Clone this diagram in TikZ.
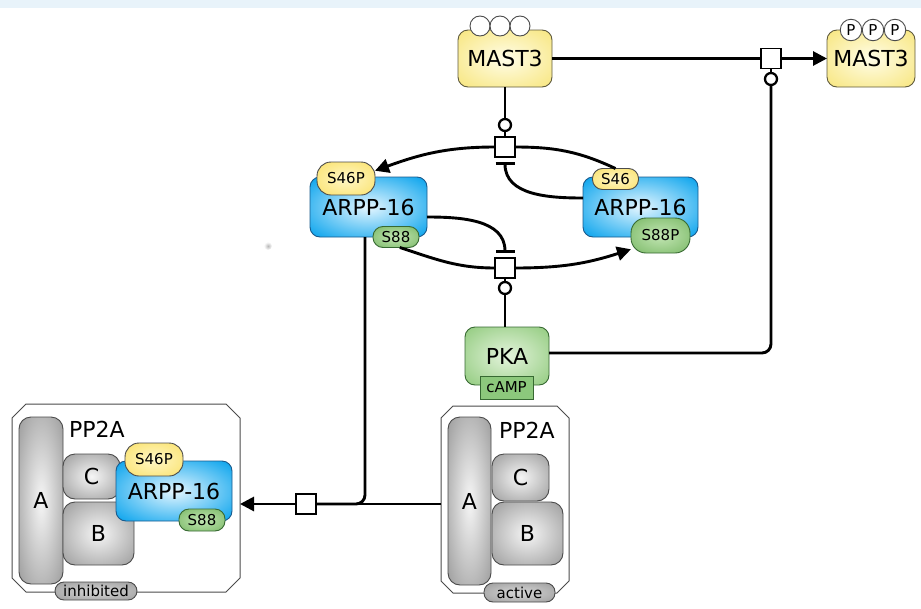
\documentclass[tikz,border=0pt]{standalone}
\usepackage{fontspec}
\setmainfont{DejaVu Sans}
\usetikzlibrary{arrows.meta,calc}
\definecolor{stripc}{RGB}{232,243,250}
\definecolor{yOut}{RGB}{247,228,118}
\definecolor{yIn}{RGB}{255,253,232}
\definecolor{ySOut}{RGB}{250,224,100}
\definecolor{ySIn}{RGB}{255,247,200}
\definecolor{bOut}{RGB}{0,160,236}
\definecolor{bIn}{RGB}{228,246,255}
\definecolor{gOut}{RGB}{140,200,120}
\definecolor{gIn}{RGB}{228,244,220}
\definecolor{gSOut}{RGB}{118,182,98}
\definecolor{gSIn}{RGB}{195,230,180}
\definecolor{kOut}{RGB}{145,145,145}
\definecolor{kIn}{RGB}{246,246,246}
\definecolor{tOut}{RGB}{150,150,150}
\definecolor{tIn}{RGB}{215,215,215}
\definecolor{campc}{RGB}{140,200,124}
\definecolor{bordY}{RGB}{95,90,60}
\definecolor{bordB}{RGB}{25,90,140}
\definecolor{bordG}{RGB}{55,105,50}
\definecolor{bordK}{RGB}{75,75,75}
\pgfdeclareradialshading{shY}{\pgfpoint{0bp}{0bp}}{color(0bp)=(yIn); color(38bp)=(yOut); color(50bp)=(yOut)}
\pgfdeclareradialshading{shYS}{\pgfpoint{0bp}{0bp}}{color(0bp)=(ySIn); color(38bp)=(ySOut); color(50bp)=(ySOut)}
\pgfdeclareradialshading{shB}{\pgfpoint{0bp}{0bp}}{color(0bp)=(bIn); color(36bp)=(bOut); color(50bp)=(bOut)}
\pgfdeclareradialshading{shG}{\pgfpoint{0bp}{0bp}}{color(0bp)=(gIn); color(38bp)=(gOut); color(50bp)=(gOut)}
\pgfdeclareradialshading{shGS}{\pgfpoint{0bp}{0bp}}{color(0bp)=(gSIn); color(38bp)=(gSOut); color(50bp)=(gSOut)}
\pgfdeclareradialshading{shK}{\pgfpoint{0bp}{0bp}}{color(0bp)=(kIn); color(40bp)=(kOut); color(50bp)=(kOut)}
\pgfdeclareradialshading{shT}{\pgfpoint{0bp}{0bp}}{color(0bp)=(tIn); color(40bp)=(tOut); color(50bp)=(tOut)}
\newcommand\myBig{\fontsize{22}{26}\selectfont}
\newcommand\mySmall{\fontsize{15}{18}\selectfont}
\newcommand\myTiny{\fontsize{15}{17}\selectfont}
\newcommand\drawOct[2]{\draw[oct] ($(#1.north west)+(#2,0)$) -- ($(#1.north east)+(-#2,0)$) -- ($(#1.north east)+(0,-#2)$) -- ($(#1.south east)+(0,#2)$) -- ($(#1.south east)+(-#2,0)$) -- ($(#1.south west)+(#2,0)$) -- ($(#1.south west)+(0,#2)$) -- ($(#1.north west)+(0,-#2)$) -- cycle;}
\tikzset{
  ln/.style={line width=2.9pt, black},
  arr/.style={-{Triangle[length=14pt,width=14pt]}},
  inh/.style={-{Bar[width=19pt]}},
  proc/.style={draw, line width=1.7pt, fill=white, minimum size=20pt, inner sep=0pt, outer sep=0pt},
  cat/.style={circle, draw, line width=2.3pt, fill=white, minimum size=12pt, inner sep=0pt, outer sep=0pt},
  box/.style={rounded corners=10pt, draw, line width=0.9pt, inner sep=0pt, outer sep=0pt, text=black},
  mastbox/.style={box, shade, shading=shY, draw=bordY, font=\myBig, minimum height=57pt},
  site/.style={circle, draw=bordK, fill=white, line width=0.9pt, minimum size=20pt, inner sep=0pt, font=\myTiny},
  arppbox/.style={box, shade, shading=shB, draw=bordB, font=\myBig, minimum height=60pt},
  yell/.style={box, shade, shading=shYS, draw=bordK, font=\mySmall},
  grn/.style={box, shade, shading=shGS, draw=bordG, font=\mySmall},
  pkabox/.style={box, shade, shading=shG, draw=bordG, font=\myBig},
  campbox/.style={draw=bordG, fill=campc, line width=0.9pt, inner sep=0pt, outer sep=0pt, font=\mySmall},
  sub/.style={box, rounded corners=12pt, shade, shading=shK, draw=bordK, font=\myBig},
  tag/.style={box, rounded corners=9pt, shade, shading=shT, draw=bordK, font=\mySmall},
  oct/.style={draw=bordK, line width=1pt, fill=white},
  holder/.style={draw=none, inner sep=0pt, outer sep=0pt},
  lbl/.style={font=\myBig, inner sep=0pt}
}
\begin{document}
\begin{tikzpicture}[x=1pt,y=1pt]
\useasboundingbox (0,0) rectangle (921,-608);
\fill[stripc] (0,0) rectangle (921,-8);
\shade[inner color=gray!55, outer color=white] (268,-246) circle (4);

% ---------- MAST3 ----------
\node[mastbox, minimum width=94pt] (M1) at (505,-58.5) {MAST3};
\node[site] (s1) at (480,-26) {};
\node[site] (s2) at (500,-26) {};
\node[site] (s3) at (520,-26) {};
\node[mastbox, minimum width=88pt] (M2) at (871,-58.5) {MAST3};
\node[site, minimum size=21.5pt] (p1) at (851,-30) {P};
\node[site, minimum size=21.5pt] (p2) at (873,-30) {P};
\node[site, minimum size=21.5pt] (p3) at (895,-30) {P};

% ---------- process nodes ----------
\node[proc] (sq1) at (771,-58.5) {};
\node[cat] (k1) at (771,-79) {};
\node[proc] (sq2) at (505,-147) {};
\node[cat] (k2) at (505,-125) {};
\coordinate (bar1) at (505,-162);
\node[proc] (sq3) at (505,-268) {};
\coordinate (bar2) at (505,-253);
\node[cat] (k3) at (505,-288) {};
\node[proc] (sq4) at (306,-504) {};
\coordinate (j) at (365,-504);

% ---------- ARPP-16 left ----------
\node[arppbox, minimum width=117pt] (ARPPl) at (368.5,-207) {\raisebox{-2pt}{ARPP-16}};
\node[yell, rounded corners=14pt, minimum width=58pt, minimum height=33pt] (S46Pl) at (346,-178.5) {S46P};
\node[grn, minimum width=46pt, minimum height=21pt] (S88l) at (396,-237) {S88};

% ---------- ARPP-16 right ----------
\node[arppbox, minimum width=115pt] (ARPPr) at (640.5,-207) {\raisebox{-2pt}{ARPP-16}};
\node[yell, minimum width=46pt, minimum height=21pt] (S46r) at (615.5,-179) {S46};
\node[grn, rounded corners=15pt, minimum width=59pt, minimum height=35pt] (S88Pr) at (660.5,-235.5) {S88P};

% ---------- PKA ----------
\node[pkabox, minimum width=84pt, minimum height=58pt] (PKA) at (507,-356) {\raisebox{-4pt}{PKA}};
\node[campbox, minimum width=53pt, minimum height=23pt] (cAMP) at (506.5,-387.5) {cAMP};

% ---------- PP2A active ----------
\node[holder, minimum width=128pt, minimum height=187pt] (PP2Aa) at (505,-499.5) {};
\drawOct{PP2Aa}{12}
\node[lbl] (lblA) at (527,-430) {PP2A};
\node[sub, minimum width=43pt, minimum height=168pt] (Aa) at (469.5,-501) {A};
\node[sub, minimum width=57pt, minimum height=47pt] (Ca) at (520.5,-477.5) {C};
\node[sub, minimum width=71pt, minimum height=63pt] (Ba) at (527.5,-533.5) {B};
\node[tag, minimum width=71pt, minimum height=19pt] (tagA) at (519.5,-592.5) {active};

% ---------- PP2A inhibited ----------
\node[holder, minimum width=228pt, minimum height=188pt] (PP2Ai) at (126,-498) {};
\drawOct{PP2Ai}{14}
\node[lbl] (lblI) at (97,-429) {PP2A};
\node[sub, minimum width=44pt, minimum height=167pt] (Ai) at (41,-500.5) {A};
\node[sub, minimum width=57pt, minimum height=45pt] (Ci) at (91.5,-476.5) {C};
\node[sub, minimum width=71pt, minimum height=63pt] (Bi) at (98.5,-533.5) {B};
\node[arppbox, minimum width=116pt] (ARPPi) at (174,-491) {\raisebox{-2pt}{ARPP-16}};
\node[yell, rounded corners=14pt, minimum width=58pt, minimum height=33pt] (S46Pi) at (154,-459.5) {S46P};
\node[grn, minimum width=46pt, minimum height=22pt] (S88i) at (202,-520) {S88};
\node[tag, minimum width=82pt, minimum height=18pt] (tagI) at (96,-591) {inhibited};

% ---------- connectors ----------
\draw[ln] (M1.east) -- (sq1.west);
\draw[ln, arr] (sq1.east) -- (M2.west);
\draw[ln] (sq1.south) -- (k1.north);
\draw[ln, rounded corners=9pt] (k1.south) |- ([yshift=3pt]PKA.east);

\draw[ln] (M1.south) -- (k2.north);
\draw[ln] (k2.south) -- (sq2.north);
\draw[ln, arr] (sq2.west) to[out=180, in=20] (S46Pl.15);
\draw[ln] (sq2.east) to[out=0, in=155] (S46r.north);
\draw[ln, inh] ([yshift=9pt]ARPPr.west) to[out=180, in=-90] (bar1);

\draw[ln] (S88l.-70) to[out=-18, in=180] (sq3.west);
\draw[ln, arr] (sq3.east) to[out=0, in=198] (S88Pr.205);
\draw[ln, inh] ([yshift=-10pt]ARPPl.east) to[out=0, in=90] (bar2);
\draw[ln] (sq3.south) -- (k3.north);
\draw[ln] (k3.south) -- (k3.south |- PKA.north);

\draw[ln, rounded corners=9pt] (ARPPl.south -| j) |- (sq4.east);
\draw[ln] (sq4.east -| PP2Aa.west) -- (sq4.east);
\draw[ln, arr] (sq4.west) -- (sq4.west -| PP2Ai.east);
\end{tikzpicture}
\end{document}
